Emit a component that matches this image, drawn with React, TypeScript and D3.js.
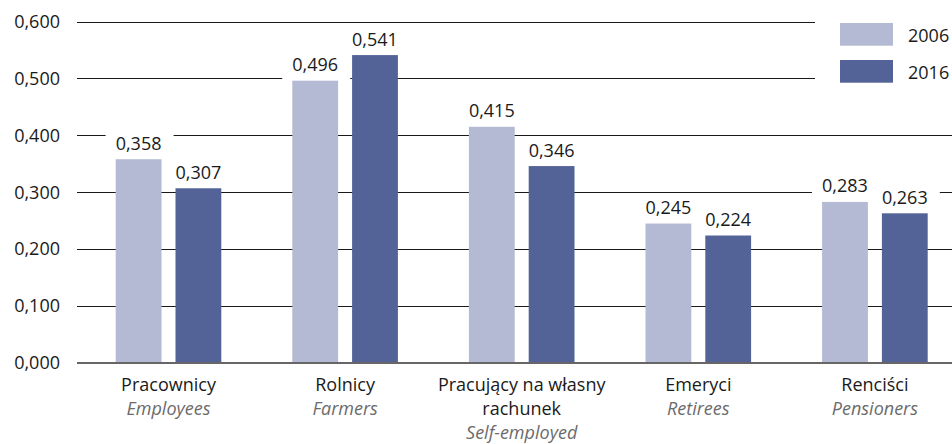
import React from "react";
import * as d3 from "d3";

const categories = ["Pracownicy", "Rolnicy", "Pracujący na własny rachunek", "Emeryci", "Renciści"];
const categoryLines = [["Pracownicy"], ["Rolnicy"], ["Pracujący na własny", "rachunek"], ["Emeryci"], ["Renciści"]];
const categoryEnglish = ["Employees", "Farmers", "Self-employed", "Retirees", "Pensioners"];
const years = ["2006", "2016"];
const values2006 = [0.358, 0.496, 0.415, 0.245, 0.283];
const values2016 = [0.307, 0.541, 0.346, 0.224, 0.263];
const yTicks = [0, 0.1, 0.2, 0.3, 0.4, 0.5, 0.6];
const colors = ["#b4b9d4", "#536397"];

const W = 952;
const H = 444;
const FONT = "'Open Sans', 'Noto Sans', sans-serif";
const fmt = (v: number) => v.toFixed(3).replace(".", ",");

export default function App() {
  const x0 = d3.scaleBand<string>().domain(categories).range([80.2, 963.2]).paddingInner(0.402).paddingOuter(0.201);
  const x1 = d3.scaleBand<string>().domain(years).range([0, x0.bandwidth()]).paddingInner(0.234).paddingOuter(0);
  const y = d3.scaleLinear().domain([0, 0.6]).range([363, 21.5]);
  const series = [values2006, values2016];
  const lineGap = 24;
  const firstLine = 390.5;

  return (
    <svg width={W} height={H} style={{ position: "absolute", left: 0, top: 0, background: "#fff" }} fontFamily={FONT}>
      <rect x={0} y={0} width={W} height={H} fill="#fff" />
      {/* gridlines */}
      {yTicks.slice(1).map((t) => (
        <line key={t} x1={77} x2={W} y1={Math.round(y(t)) + 0.5} y2={Math.round(y(t)) + 0.5} stroke="#1a1a1a" strokeWidth={1} />
      ))}
      {/* y tick labels */}
      {yTicks.map((t) => (
        <text key={t} x={60} y={y(t)} dy="0.35em" textAnchor="end" fontSize={18} fill="#1a1a1a">
          {fmt(t)}
        </text>
      ))}
      {/* label backgrounds */}
      {categories.map((c, i) =>
        years.map((yr, j) => {
          const v = series[j][i];
          const cx = (x0(c) as number) + (x1(yr) as number) + x1.bandwidth() / 2;
          const base = y(v) - 9.5;
          return <rect key={c + yr + "bg"} x={cx - 33} y={base - 19} width={68} height={y(v) - base + 19} fill="#fff" />;
        })
      )}
      {/* bars */}
      {categories.map((c, i) =>
        years.map((yr, j) => {
          const v = series[j][i];
          const bx = (x0(c) as number) + (x1(yr) as number);
          return <rect key={c + yr} x={bx} y={y(v)} width={x1.bandwidth()} height={y(0) - y(v)} fill={colors[j]} />;
        })
      )}
      {/* value labels */}
      {categories.map((c, i) =>
        years.map((yr, j) => {
          const v = series[j][i];
          const cx = (x0(c) as number) + (x1(yr) as number) + x1.bandwidth() / 2;
          return (
            <text key={c + yr + "t"} x={cx} y={y(v) - 9.5} textAnchor="middle" fontSize={18} fill="#1a1a1a">
              {fmt(v)}
            </text>
          );
        })
      )}
      {/* axis */}
      <line x1={77} x2={W} y1={y(0)} y2={y(0)} stroke="#666" strokeWidth={2} />
      {/* category labels */}
      {categories.map((c, i) => {
        const cx = (x0(c) as number) + x0.bandwidth() / 2;
        const lines = categoryLines[i];
        return (
          <g key={c + "lab"}>
            {lines.map((l, k) => (
              <text key={k} x={cx} y={firstLine + k * lineGap} textAnchor="middle" fontSize={18} fill="#1a1a1a">
                {l}
              </text>
            ))}
            <text x={cx} y={firstLine + lines.length * lineGap} textAnchor="middle" fontSize={18} fontStyle="italic" fill="#6b6b6b">
              {categoryEnglish[i]}
            </text>
          </g>
        );
      })}
      {/* legend */}
      <rect x={815} y={0} width={W - 815} height={100} fill="#fff" />
      {years.map((yr, j) => (
        <g key={yr + "leg"}>
          <rect x={840} y={23 + j * 37} width={53} height={22.7} fill={colors[j]} />
          <text x={908} y={41.5 + j * 37} fontSize={18} fill="#1a1a1a">
            {yr}
          </text>
        </g>
      ))}
    </svg>
  );
}
